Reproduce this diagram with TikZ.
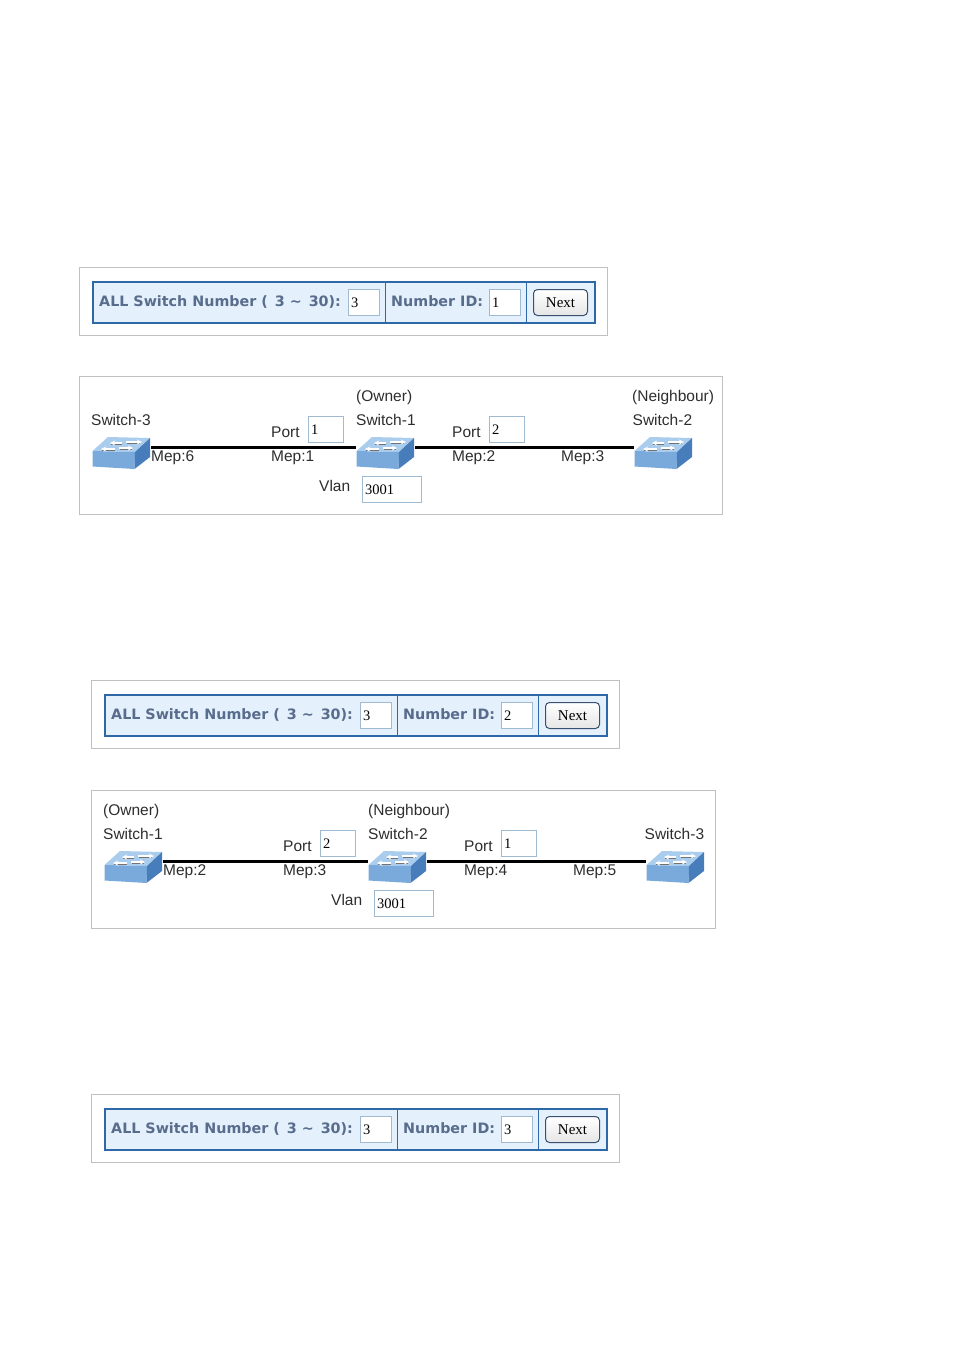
\documentclass[tikz,border=0pt]{standalone}
\usepackage{fontspec}
\setmainfont{Liberation Sans}
\newfontfamily\barfont{DejaVu Sans}
\newfontfamily\fieldfont{Liberation Serif}
\definecolor{framegray}{RGB}{192,192,192}
\definecolor{barblue}{RGB}{47,104,166}
\definecolor{barfill}{RGB}{228,240,252}
\definecolor{bartext}{RGB}{88,108,140}
\definecolor{fieldline}{RGB}{160,186,210}
\definecolor{labelgray}{RGB}{45,45,45}
\definecolor{btnline}{RGB}{58,80,112}
\definecolor{swtop}{RGB}{170,205,238}
\definecolor{swfront}{RGB}{122,170,219}
\definecolor{swside}{RGB}{72,125,188}
\tikzset{
  panel/.style={draw=framegray, line width=1pt, anchor=north west, inner sep=0pt},
  barbox/.style={draw=barblue, line width=2pt, fill=barfill, anchor=north west, inner sep=0pt,
    minimum width=502pt, minimum height=41pt},
  barlabel/.style={anchor=base west, inner sep=0pt, text=bartext, font=\barfont\bfseries\fontsize{14.3}{16}\selectfont},
  fieldbox/.style={draw=fieldline, line width=1pt, fill=white, anchor=north west, inner xsep=2.5pt, inner ysep=0pt,
    minimum height=26pt, text width=#1, align=left, font=\fieldfont\fontsize{14.5}{16}\selectfont},
  nextbtn/.style={draw=btnline, line width=1pt, rounded corners=4pt, top color=white, bottom color=black!10,
    anchor=north west, inner sep=0pt, minimum width=54pt, minimum height=26pt, font=\fieldfont\fontsize{15}{16}\selectfont},
  txt/.style={anchor=base west, inner sep=0pt, text=labelgray, font=\fontsize{15.5}{18}\selectfont},
  swbox/.style={anchor=north west, inner sep=0pt, minimum width=59pt, minimum height=33pt},
  switchicon/.pic={
    \fill[swtop] (0.5,14) -- (16,0) -- (58,1) -- (43,15) -- cycle;
    \fill[swfront] (0.5,14) -- (43,15) -- (42.5,32) -- (0.5,29.5) -- cycle;
    \fill[swside] (43,15) -- (58,1) -- (58,20) -- (42.5,32) -- cycle;
    \draw[black!55, line width=0.8pt] (19,7) -- (30,7) (35,6) -- (48,6) (10,13) -- (23,13) (28,12) -- (40,12);
    \draw[<-, >=stealth, white, line width=1.3pt] (18,6) -- (30,6);
    \draw[->, >=stealth, white, line width=1.3pt] (34,5) -- (50,5);
    \draw[<-, >=stealth, white, line width=1.3pt] (9,12) -- (23,12);
    \draw[->, >=stealth, white, line width=1.3pt] (27,11) -- (41,11);
  },
  linkline/.style={line width=3pt, black}
}

\begin{document}
\begin{tikzpicture}[x=1pt, y=-1pt]
  \useasboundingbox (0,0) rectangle (954,1350);
  % Top bars
  \foreach \t/\dx/\dy/\id in {a/0/0/1, b/12/413/2, c/12/827/3} {
    \begin{scope}[shift={(\dx,\dy)}]
      \node[panel, minimum width=527.7pt, minimum height=68pt] (panel\t) at (79,267) {};
      \node[barbox] (bar\t) at (92,281) {};
      \draw[barblue, line width=1pt] ([xshift=293pt]bar\t.north west) -- ([xshift=293pt]bar\t.south west);
      \draw[barblue, line width=1pt] ([xshift=434pt]bar\t.north west) -- ([xshift=434pt]bar\t.south west);
      \node[barlabel] (total\t) at (99,306.5) {ALL Switch Number (\hspace{2pt} 3 \textasciitilde{}\hspace{2pt} 30):};
      \node[fieldbox=26pt] (count\t) at (348,289) {3};
      \node[barlabel] (idtext\t) at (391,306.5) {Number ID:};
      \node[fieldbox=26pt] (idbox\t) at (489,289) {\id};
      \node[nextbtn] (next\t) at (533,289) {Next};
    \end{scope}
  }
  % Ring diagrams
  \foreach \d/\dx/\dy/\fw/\la/\lb/\lc/\ma/\mb/\mc/\md/\pa/\pb in {1/0/0/643/3/1/2/6/1/2/3/1/2, 2/12/414/624/1/2/3/2/3/4/5/2/1} {
    \begin{scope}[shift={(\dx,\dy)}]
      \node[panel, minimum width=\fw pt, minimum height=138pt] (frame\d) at (79,376) {};
      \node[swbox] (swa\d) at (92,437) {};
      \node[swbox] (swb\d) at (356,437) {};
      \node[swbox] (swc\d) at (634,437) {};
      \pic at (swa\d.north west) {switchicon};
      \pic at (swb\d.north west) {switchicon};
      \pic at (swc\d.north west) {switchicon};
      \draw[linkline] ([yshift=6.5pt]swa\d.east) -- ([yshift=6.5pt]swb\d.west);
      \draw[linkline] ([yshift=6.5pt]swb\d.east) -- ([yshift=6.5pt]swc\d.west);
      \node[txt] (namea\d) at (91,425) {Switch-\la};
      \node[txt] (nameb\d) at (356,425) {Switch-\lb};
      \node[txt] (namec\d) at (632.5,425) {Switch-\lc};
      \node[txt] (mepa\d) at (151,461.5) {Mep:\ma};
      \node[txt] (mepb\d) at (271,461.5) {Mep:\mb};
      \node[txt] (mepc\d) at (452,461.5) {Mep:\mc};
      \node[txt] (mepd\d) at (561,461.5) {Mep:\md};
      \node[txt] (porta\d) at (271,437.5) {Port};
      \node[fieldbox=30pt] (pbox\d) at (308,416) {\pa};
      \node[txt] (portb\d) at (452,437.5) {Port};
      \node[fieldbox=30pt] (qbox\d) at (489,416) {\pb};
      \node[txt] (vlan\d) at (319,491.5) {Vlan};
      \node[fieldbox=54pt] (vbox\d) at (362,476) {3001};
    \end{scope}
  }
  % Role labels
  \node[txt] (owner1) at (356,401) {(Owner)};
  \node[txt] (neigh1) at (632,401) {(Neighbour)};
  \node[txt] (owner2) at (103,815) {(Owner)};
  \node[txt] (neigh2) at (368,815) {(Neighbour)};
\end{tikzpicture}
\end{document}
